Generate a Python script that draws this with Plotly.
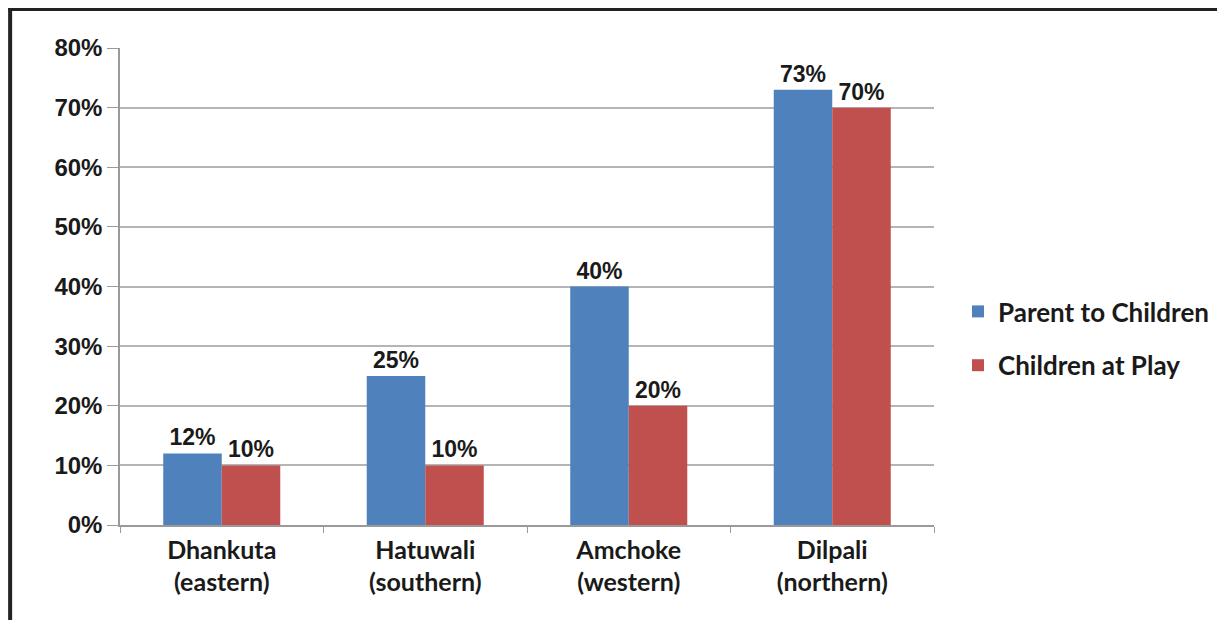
import plotly.graph_objects as go

categories = ["Dhankuta<br>(eastern)", "Hatuwali<br>(southern)", "Amchoke<br>(western)", "Dilpali<br>(northern)"]
parent_to_children = [12, 25, 40, 73]
children_at_play = [10, 10, 20, 70]
series_names = ["Parent to Children", "Children at Play"]
y_ticks = [0, 10, 20, 30, 40, 50, 60, 70, 80]
y_tick_labels = [f"{v}%" for v in y_ticks]

# page has an 8px body margin, so the figure is drawn 8px in from the window edge
OFF = 8
W, H = 1225 - OFF, 620 - OFF
L, T = 120 - OFF, 48 - OFF
pw, ph = 815, 477
R, B = W - L - pw, H - T - ph

def px_x(x):  # screen px -> paper
    return (x - OFF - L) / pw

def px_y(y):
    return (T + ph - (y - OFF)) / ph

label_font = dict(family="Liberation Sans, Arial", size=23, color="#1a1a1a")

fig = go.Figure()
fig.add_trace(go.Bar(
    x=categories, y=parent_to_children, name=f"<b>{series_names[0]}</b>",
    marker=dict(color="#4F81BD", line=dict(width=0)),
    text=[f"<b>{v}%</b>" for v in parent_to_children], textposition="outside",
    textfont=label_font, cliponaxis=False, legendgroup="a",
))
fig.add_trace(go.Bar(
    x=categories, y=children_at_play, name=f"<b>{series_names[1]}</b>",
    marker=dict(color="#C0504D", line=dict(width=0)),
    text=[f"<b>{v}%</b>" for v in children_at_play], textposition="outside",
    textfont=label_font, cliponaxis=False, legendgroup="b",
))

fig.update_layout(
    width=W, height=H,
    margin=dict(l=L, r=R, t=T, b=B),
    paper_bgcolor="white", plot_bgcolor="white",
    barmode="group", bargap=0.425, bargroupgap=0,
    legend=dict(
        x=px_x(958), y=px_y(288), xanchor="left", yanchor="top",
        font=dict(family="Lato, Open Sans", size=26, color="#1a1a1a"),
        traceorder="grouped", tracegroupgap=17,
        itemwidth=30,
    ),
    xaxis=dict(
        tickvals=categories, ticktext=[f"<b>{c}</b>" for c in categories],
        tickfont=dict(family="Lato, Open Sans", size=25, color="#1a1a1a"),
        showline=True, linecolor="#9a9a9a", linewidth=1.5,
        ticks="outside", tickson="boundaries", ticklen=6, tickcolor="#9a9a9a",
        ticklabelstandoff=2,
        showgrid=False,
    ),
    yaxis=dict(
        range=[0, 80], tickvals=y_ticks, ticktext=[f"<b>{t}</b>" for t in y_tick_labels],
        tickfont=dict(family="Liberation Sans, Arial", size=24, color="#1a1a1a"),
        showline=True, linecolor="#9a9a9a", linewidth=1.5,
        ticks="outside", ticklen=11, tickcolor="#9a9a9a",
        showgrid=True, gridcolor="#b5b5b5", gridwidth=1.5,
        zeroline=False,
    ),
    shapes=[
        dict(type="line", xref="paper", yref="paper",
             x0=px_x(10), x1=px_x(10), y0=px_y(8), y1=px_y(640),
             line=dict(color="#222222", width=4)),
        dict(type="line", xref="paper", yref="paper",
             x0=px_x(8), x1=px_x(1240), y0=px_y(9.5), y1=px_y(9.5),
             line=dict(color="#222222", width=3)),
    ],
)

fig.write_html("out.html")
